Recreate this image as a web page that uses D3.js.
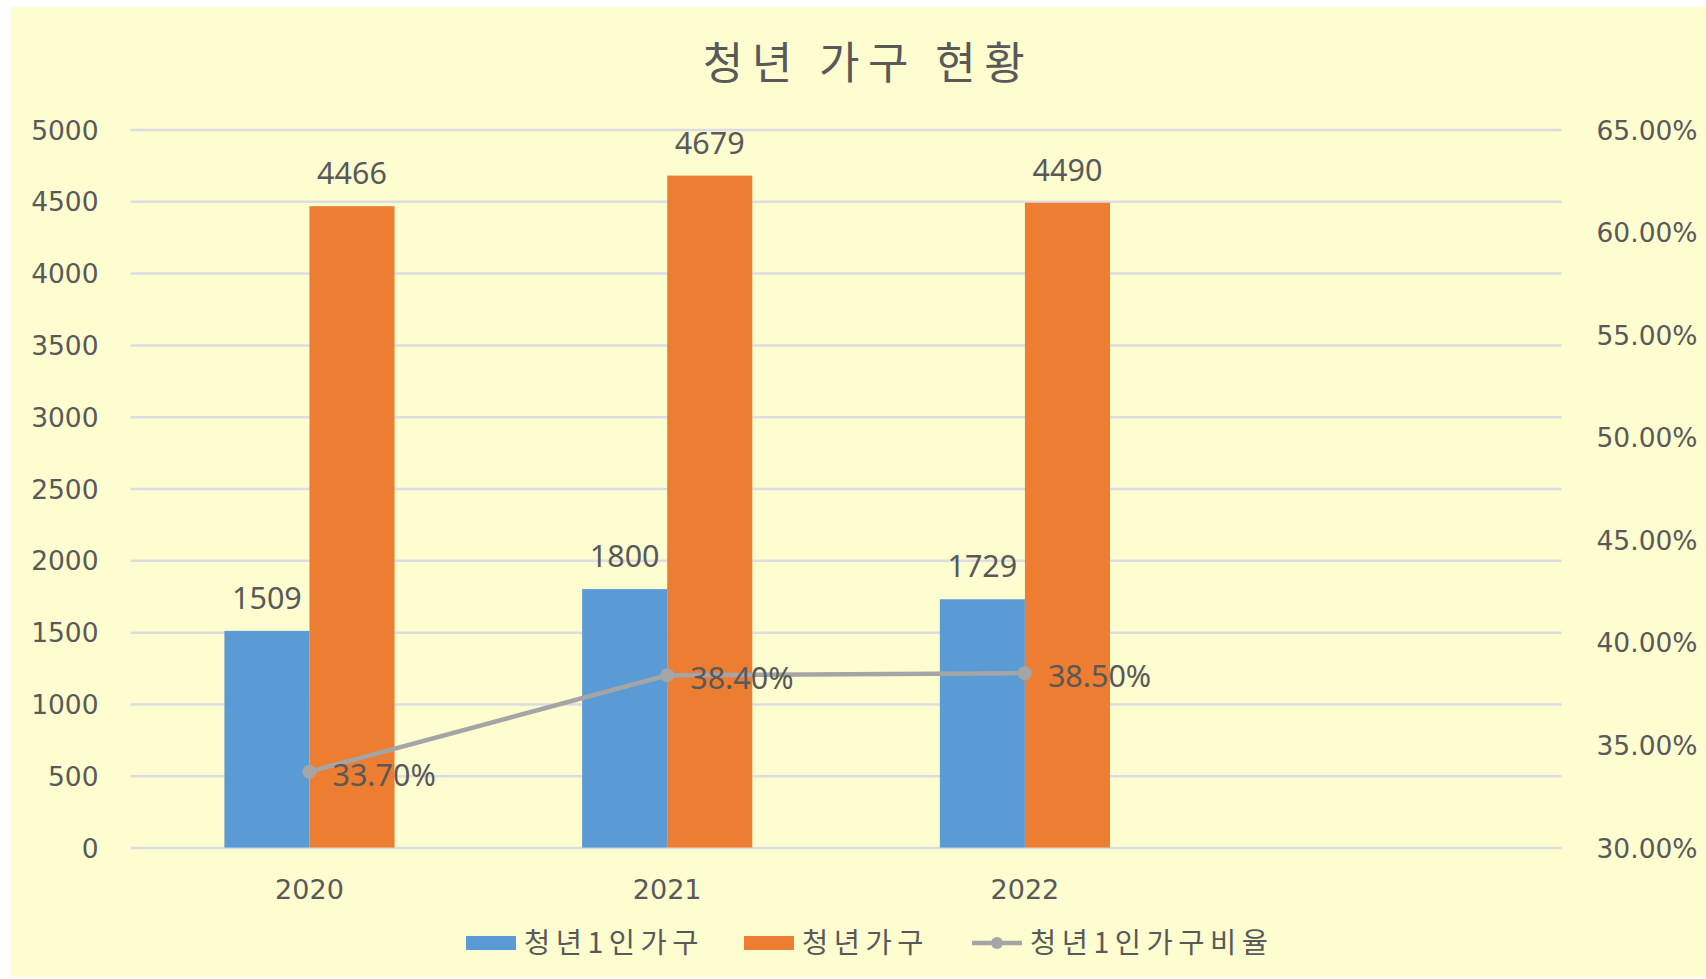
<!DOCTYPE html>
<html><head><meta charset="utf-8">
<script src="https://cdn.jsdelivr.net/npm/d3@7"></script>
<style>html,body{margin:0;padding:0;background:#fff;}svg{display:block;}</style>
</head><body>
<svg id="chart" width="1706" height="979"></svg>
<script>
const title = "청년 가구 현황";
const categories = ["2020", "2021", "2022", ""];
const singleHouseholds = [1509, 1800, 1729, null];
const youthHouseholds = [4466, 4679, 4490, null];
const singleRatio = [33.7, 38.4, 38.5, null];
const leftTicks = [0, 500, 1000, 1500, 2000, 2500, 3000, 3500, 4000, 4500, 5000];
const rightTicks = [30, 35, 40, 45, 50, 55, 60, 65];
const seriesNames = ["청년1인가구", "청년가구", "청년1인가구비율"];

const svg = d3.select("#chart");
const W = 1706, H = 979;
const txt = "#595959";
svg.append("rect").attr("x", 11).attr("y", 7).attr("width", W - 11).attr("height", 970).attr("fill", "#fefdd0");

const pLeft = 130.6, pRight = 1561.5, pTop = 129.5, pBottom = 847.6;
const x = d3.scaleBand().domain(categories.map((c, i) => i)).range([pLeft, pRight]);
const yL = d3.scaleLinear().domain([0, 5000]).range([pBottom, pTop]);
const yR = d3.scaleLinear().domain([30, 65]).range([pBottom, pTop]);

svg.append("text").attr("x", 868).attr("y", 79).attr("text-anchor", "middle")
  .attr("font-family", "Noto Sans CJK KR").attr("font-size", 44).attr("letter-spacing", 8.5)
  .attr("fill", txt).text(title);

// gridlines
const gl = d3.axisLeft(yL).tickValues(leftTicks).tickSize(-(pRight - pLeft)).tickFormat("");
const gg = svg.append("g").attr("transform", `translate(${pLeft},0)`).call(gl);
gg.select(".domain").remove();
gg.selectAll("line").attr("stroke", "#dcdde2").attr("stroke-width", 2.5);

// left axis labels
const la = svg.append("g").attr("transform", `translate(${pLeft},0)`)
  .call(d3.axisLeft(yL).tickValues(leftTicks).tickSize(0).tickPadding(32).tickFormat(d3.format("d")));
la.select(".domain").remove();
la.selectAll("text").attr("font-family", "DejaVu Sans").attr("font-size", 26.5).attr("fill", txt).attr("dy", "0.36em");

// right axis labels
const ra = svg.append("g").attr("transform", `translate(${pRight},0)`)
  .call(d3.axisRight(yR).tickValues(rightTicks).tickSize(0).tickPadding(35).tickFormat(d => d.toFixed(2) + "%"));
ra.select(".domain").remove();
ra.selectAll("text").attr("font-family", "DejaVu Sans").attr("font-size", 26.5).attr("fill", txt).attr("dy", "0.36em");

// x axis labels
const xa = svg.append("g").attr("transform", `translate(0,${pBottom})`)
  .call(d3.axisBottom(x).tickSize(0).tickPadding(32).tickFormat(i => categories[i]));
xa.select(".domain").remove();
xa.selectAll("text").attr("font-family", "DejaVu Sans").attr("font-size", 27).attr("fill", txt);

const bw = x.bandwidth() * 0.2378;
const idx = categories.map((c, i) => i).filter(i => singleHouseholds[i] != null);

const colors = ["#5b9bd5", "#ed7d31", "#a5a5a5"];
[singleHouseholds, youthHouseholds].forEach((arr, s) => {
  const g = svg.append("g");
  const bx = i => x(i) + x.bandwidth() / 2 + (s === 0 ? -bw : 0);
  g.selectAll("rect").data(idx).join("rect")
    .attr("x", bx).attr("width", bw)
    .attr("y", i => yL(arr[i])).attr("height", i => yL(0) - yL(arr[i]))
    .attr("fill", colors[s]);
  g.selectAll("text").data(idx).join("text")
    .attr("x", i => bx(i) + bw / 2).attr("y", i => yL(arr[i]) - 22)
    .attr("text-anchor", "middle").attr("font-family", "Noto Sans").attr("font-size", 30.5)
    .attr("fill", txt).text(i => arr[i]);
});

// line
const cx = i => x(i) + x.bandwidth() / 2;
svg.append("path").datum(idx)
  .attr("d", d3.line().x(cx).y(i => yR(singleRatio[i])))
  .attr("fill", "none").attr("stroke", colors[2]).attr("stroke-width", 4.5);
svg.append("g").selectAll("circle").data(idx).join("circle")
  .attr("cx", cx).attr("cy", i => yR(singleRatio[i])).attr("r", 7).attr("fill", colors[2]);
svg.append("g").selectAll("text").data(idx).join("text")
  .attr("x", i => cx(i) + 23).attr("y", i => yR(singleRatio[i]) + 3).attr("dy", "0.36em")
  .attr("font-family", "Noto Sans").attr("font-size", 30.5).attr("fill", txt)
  .text(i => singleRatio[i].toFixed(2) + "%");

// legend
const ly = 943;
const lg = svg.append("g");
const legendX = [466, 744, 972];
seriesNames.forEach((name, s) => {
  const lx = legendX[s];
  if (s < 2) {
    lg.append("rect").attr("x", lx).attr("y", ly - 7).attr("width", 50).attr("height", 14).attr("fill", colors[s]);
  } else {
    lg.append("line").attr("x1", lx).attr("x2", lx + 50).attr("y1", ly).attr("y2", ly)
      .attr("stroke", colors[2]).attr("stroke-width", 4.5);
    lg.append("circle").attr("cx", lx + 25).attr("cy", ly).attr("r", 6).attr("fill", colors[2]);
  }
  lg.append("text").attr("x", lx + 58).attr("y", ly).attr("dy", "0.36em")
    .attr("font-family", "Noto Sans CJK KR").attr("font-size", 28.5).attr("letter-spacing", 5.5)
    .attr("fill", txt).text(name);
});
</script>
</body></html>
